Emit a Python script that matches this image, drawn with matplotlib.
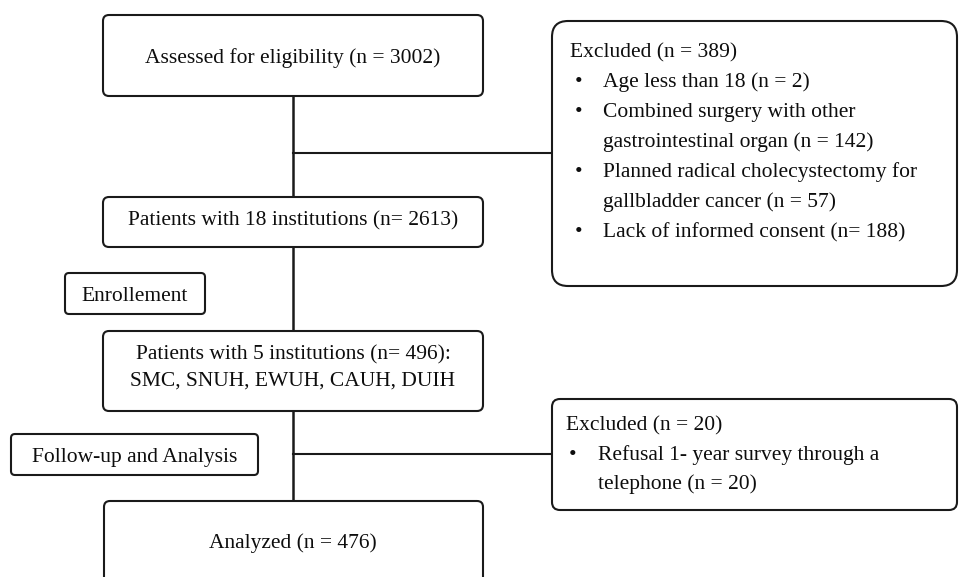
import matplotlib.pyplot as plt
from matplotlib.patches import FancyBboxPatch

# flow counts
n_assessed = 3002
n_institutions18 = 2613
n_institutions5 = 496
n_analyzed = 476

excluded1_total = 389
excluded1_reasons = [
    ['Age less than 18 (n = 2)'],
    ['Combined surgery with other', 'gastrointestinal organ (n = 142)'],
    ['Planned radical cholecystectomy for', 'gallbladder cancer (n = 57)'],
    ['Lack of informed consent (n= 188)'],
]
excluded2_total = 20
excluded2_reasons = [
    ['Refusal 1- year survey through a', 'telephone (n = 20)'],
]
five_sites = ['SMC', 'SNUH', 'EWUH', 'CAUH', 'DUIH']

FONT = 'Liberation Serif'
FS = 15.5
LW = 1.5


def box(ax, x0, y0, x1, y1, r=6):
    p = FancyBboxPatch((x0, y0), x1 - x0, y1 - y0,
                       boxstyle='round,pad=0,rounding_size=%g' % r,
                       fc='white', ec='#1a1a1a', lw=LW, zorder=2)
    ax.add_patch(p)


def txt(ax, x, y, s, ha='center'):
    # y is the text baseline in pixels
    ax.text(x, y, s, ha=ha, va='baseline', fontsize=FS, family=FONT,
            color='#0d0d0d', zorder=3)


def main():
    fig = plt.figure(figsize=(9.6, 5.77), dpi=100)
    ax = fig.add_axes([0, 0, 1, 1])
    ax.set_xlim(0, 960)
    ax.set_ylim(577, 0)
    ax.axis('off')

    cx = 293
    # connectors
    ax.plot([cx, cx], [96, 331], color='#1a1a1a', lw=LW + 0.3, zorder=1)
    ax.plot([cx, cx], [411, 503], color='#1a1a1a', lw=LW + 0.3, zorder=1)
    ax.plot([cx, 552], [153, 153], color='#1a1a1a', lw=LW, zorder=1)
    ax.plot([cx, 552], [454, 454], color='#1a1a1a', lw=LW, zorder=1)

    # main column
    box(ax, 103, 15, 483, 96)
    txt(ax, cx, 63, 'Assessed for eligibility (n = %d)' % n_assessed)

    box(ax, 103, 197, 483, 247)
    txt(ax, cx, 225, 'Patients with 18 institutions (n= %d)' % n_institutions18)

    box(ax, 103, 331, 483, 411)
    txt(ax, cx, 359, 'Patients with 5 institutions (n= %d):' % n_institutions5)
    txt(ax, cx, 386, ', '.join(five_sites))

    box(ax, 104, 501, 483, 600)
    txt(ax, cx, 548, 'Analyzed (n = %d)' % n_analyzed)

    # stage labels
    box(ax, 65, 273, 205, 314, r=4)
    txt(ax, 135, 301, 'Enrollement')
    box(ax, 11, 434, 258, 475, r=4)
    txt(ax, 135, 462, 'Follow-up and Analysis')

    # exclusion boxes
    box(ax, 552, 21, 957, 286, r=16)
    txt(ax, 570, 57, 'Excluded (n = %d)' % excluded1_total, ha='left')
    y = 87
    for reason in excluded1_reasons:
        txt(ax, 575, y, '\u2022', ha='left')
        for line in reason:
            txt(ax, 603, y, line, ha='left')
            y += 30

    box(ax, 552, 399, 957, 510, r=8)
    txt(ax, 566, 430, 'Excluded (n = %d)' % excluded2_total, ha='left')
    y = 460
    for reason in excluded2_reasons:
        txt(ax, 569, y, '\u2022', ha='left')
        for line in reason:
            txt(ax, 598, y, line, ha='left')
            y += 29

    fig.savefig('out.png', dpi=100)


if __name__ == '__main__':
    main()
